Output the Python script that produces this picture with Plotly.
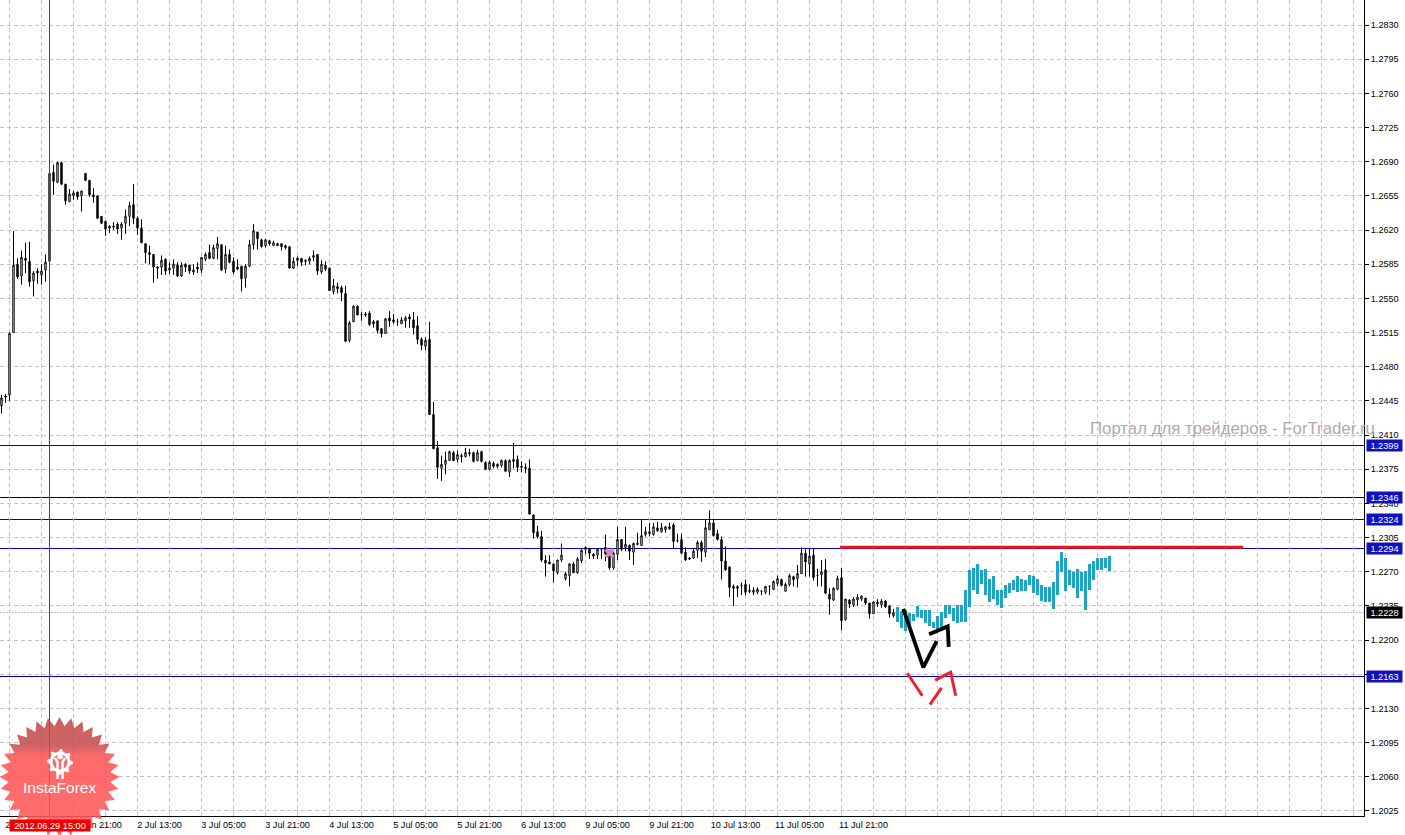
import math
import plotly.graph_objects as go

W, H = 1405, 835
PLOT_W, PLOT_H = 1364, 816
BASE = 1.2          # all bar values below are in pips above this price

OPEN = [440,450,451,515,585,573,591,588,568,578,
        574,579,588,679,669,689,667,649,655,659,
        655,678,671,656,655,634,629,622,624,626,
        622,627,634,646,632,622,606,597,595,582,
        582,590,579,581,584,573,585,584,577,582,
        579,590,597,591,601,605,580,595,588,582,
        583,571,583,605,618,610,604,609,604,606,
        606,604,603,581,591,591,589,588,592,595,
        577,584,581,557,562,561,555,507,526,542,
        533,534,535,526,527,519,514,530,528,526,
        524,527,531,528,522,508,501,508,431,397,
        376,380,384,392,385,389,388,392,392,384,
        393,382,375,381,380,379,384,372,385,385,
        378,377,376,328,311,306,282,280,278,269,
        282,263,266,278,269,281,293,294,288,287,
        293,295,288,274,288,303,295,297,290,298,
        297,308,311,308,315,311,313,316,318,302,
        303,290,284,284,292,300,290,313,320,309,
        303,281,275,255,253,256,257,251,249,249,
        250,249,255,252,258,262,250,257,265,263,
        268,289,278,287,266,267,272,247,241,252,
        264,221,241,236,241,242,243,238,227,239,
        236,240,235,225]
CLOSE = [448,449,514,584,572,592,589,567,576,576,
         578,587,678,670,689,667,650,657,658,654,
         660,671,656,654,632,627,621,624,623,621,
         626,634,645,632,622,607,597,595,582,581,
         589,578,581,585,573,584,582,578,579,580,
         592,595,591,602,606,579,595,587,577,580,
         570,583,605,619,611,603,610,606,607,604,
         603,602,581,588,589,587,588,591,594,578,
         585,580,558,563,560,556,506,525,542,533,
         533,533,523,524,517,514,529,527,526,526,
         528,530,529,520,508,502,507,431,396,377,
         380,384,393,384,390,388,392,391,383,392,
         383,375,382,378,378,384,373,384,383,377,
         377,376,329,310,306,282,279,278,271,282,
         287,268,278,269,283,292,295,289,286,293,
         293,288,274,289,303,293,298,291,299,299,
         307,311,309,316,312,315,316,314,301,302,
         289,282,283,291,300,291,315,320,307,303,
         281,272,254,253,255,256,249,250,251,252,
         250,255,255,260,263,256,257,266,262,268,
         289,280,286,264,266,270,248,242,253,263,
         220,242,237,242,244,245,238,227,239,237,
         240,234,227,228]
HIGH = [451,452,515,619,591,599,607,608,578,581,
        585,595,692,687,690,690,667,662,660,659,
        660,678,671,663,655,634,629,625,628,628,
        628,641,649,667,634,631,606,604,595,583,
        594,591,587,590,587,587,586,584,585,587,
        592,597,605,605,613,605,604,600,592,590,
        583,585,610,626,618,611,611,610,609,607,
        606,605,603,592,593,591,590,593,599,595,
        589,588,581,570,566,563,563,527,543,543,
        536,536,537,528,527,519,530,537,534,529,
        531,532,534,536,532,510,510,526,444,404,
        389,393,394,394,394,391,397,396,393,395,
        394,383,384,383,381,385,385,385,402,389,
        383,381,385,329,317,312,287,287,278,282,
        299,270,279,280,285,293,296,294,289,294,
        294,308,292,291,316,303,316,298,300,310,
        323,316,320,320,321,320,317,320,320,309,
        309,295,285,293,302,302,323,333,324,313,
        306,296,275,257,256,259,262,257,254,254,
        251,255,256,261,266,263,259,268,266,277,
        295,293,294,294,273,282,283,253,254,266,
        274,242,242,244,247,246,243,238,240,242,
        242,241,236,232]
LOW = [432,443,445,515,570,564,576,562,552,565,
       564,567,588,656,668,666,646,649,651,651,
       639,670,654,648,632,626,614,617,620,616,
       610,616,624,626,615,607,586,585,566,570,
       574,574,575,574,572,572,577,575,574,576,
       576,588,590,590,590,578,576,586,575,579,
       557,561,582,600,600,602,602,604,604,604,
       599,600,581,580,583,583,584,585,588,574,
       575,578,558,554,555,547,506,505,526,533,
       527,531,522,520,514,510,514,521,524,522,
       524,520,520,513,503,497,497,431,396,365,
       363,370,384,383,382,382,387,388,382,383,
       382,374,374,376,376,377,372,367,376,372,
       372,371,329,304,304,280,265,278,259,267,
       280,261,255,269,268,279,288,283,283,283,
       283,281,272,272,282,291,291,282,277,297,
       297,306,306,307,311,310,310,313,294,300,
       288,281,282,283,284,280,285,313,306,302,
       262,271,244,235,244,246,246,248,246,247,
       246,247,246,251,255,255,250,255,255,254,
       268,265,265,261,255,255,247,226,240,251,
       210,220,233,234,235,240,236,222,227,234,
       233,233,223,223]

FORECAST_HIGH = [234,230,231,228,227,235,231,231,231,219,
                 225,229,236,236,233,236,236,251,272,274,
                 278,272,273,263,266,251,251,256,258,262,
                 266,263,262,267,266,263,256,254,254,260,
                 281,290,284,272,270,273,270,271,278,281,
                 284,284,284,286]
FORECAST_LOW = [219,212,209,214,220,224,223,217,214,212,
                211,212,223,227,220,218,219,219,234,251,
                247,257,246,239,242,236,233,243,248,251,
                249,250,250,256,248,246,240,239,239,232,
                246,270,250,256,253,243,250,231,251,262,
                272,272,274,271]

PRICE_TICKS = [1.2830,1.2795,1.2760,1.2725,1.2690,1.2655,1.2620,1.2585,1.2550,1.2515,1.2480,1.2445,
               1.2410,1.2375,1.2340,1.2305,1.2270,1.2235,1.2200,1.2165,1.2130,1.2095,1.2060,1.2025]
TIME_TICK_BARS = [2,18,34,50,66,82,98,114,130,146,162,178,194,210]
TIME_TICK_LABELS = ["29 Jun 05:00","29 Jun 21:00","2 Jul 13:00","3 Jul 05:00","3 Jul 21:00","4 Jul 13:00",
                    "5 Jul 05:00","5 Jul 21:00","6 Jul 13:00","9 Jul 05:00","9 Jul 21:00","10 Jul 13:00",
                    "11 Jul 05:00","11 Jul 21:00"]
GRID_ONLY_BARS = [10,26,42,58,74,90,106,122,138,154,170,186,202,218,234,250,266,282,298,314,330]
FAR_TICK_BARS = [226,242,258,274,290,306,322,338]

LEVELS = [1.2399, 1.2324, 1.2294, 1.2163]
LEVEL_DARK = 1.2346
LEVEL_BID = 1.2228
RESISTANCE_BARS, RESISTANCE_PRICE = [209.6, 310.4], 1.2295
CROSSHAIR_BAR = 12
CROSSHAIR_LABEL = "2012.06.29 15:00"
MARK_BAR, MARK_PRICE = 152, 1.2289
BLACK_STROKES = [([225.45,230.45,233.8],[1.2232,1.2172,1.2199]),
                 ([231.9,236.55,236.8],[1.2206,1.2214,1.2193])]
RED_STROKES = [([226.45,230.2],[1.2166,1.2143]),
               ([232.1,235.0],[1.2134,1.2151]),
               ([233.4,237.3,238.55],[1.2159,1.2167,1.2143])]
WATERMARK = "Портал для трейдеров - ForTrader.ru"
LOGO_TEXT = "InstaForex"

assert len(OPEN) == len(CLOSE) == len(HIGH) == len(LOW) == 224
assert len(FORECAST_HIGH) == len(FORECAST_LOW) == 54


def price(vals):
    return [BASE + v / 10000 for v in vals]


FONT = "Liberation Sans"
TOP_PRICE = 1.2690 + 161.7 / 9763
BOT_PRICE = TOP_PRICE - PLOT_H / 9763

bars = list(range(len(OPEN)))
fc_bars = list(range(len(OPEN), len(OPEN) + len(FORECAST_HIGH)))

fig = go.Figure()

# pink mark below the candles
fig.add_trace(go.Scatter(x=[MARK_BAR], y=[MARK_PRICE], mode="markers",
                         marker=dict(symbol="x", size=9, color="#d98ac5", line=dict(width=0))))
# forecast bars
fig.add_trace(go.Bar(x=fc_bars, base=price(FORECAST_LOW),
                     y=[(h - l) / 10000 for h, l in zip(FORECAST_HIGH, FORECAST_LOW)],
                     width=0.75, marker=dict(color="#20a4c4", line=dict(width=0))))
# history
fig.add_trace(go.Candlestick(x=bars, open=price(OPEN), high=price(HIGH), low=price(LOW), close=price(CLOSE),
                             whiskerwidth=0,
                             increasing=dict(line=dict(color="black", width=1), fillcolor="white"),
                             decreasing=dict(line=dict(color="black", width=1), fillcolor="black")))
# crosshair
fig.add_trace(go.Scatter(x=[CROSSHAIR_BAR, CROSSHAIR_BAR], y=[BOT_PRICE, TOP_PRICE], mode="lines",
                         line=dict(color="#cc1010", width=1)))
# resistance
fig.add_trace(go.Scatter(x=RESISTANCE_BARS, y=[RESISTANCE_PRICE] * 2, mode="lines",
                         line=dict(color="#ee1414", width=3)))
for xs, ys in BLACK_STROKES:
    fig.add_trace(go.Scatter(x=xs, y=ys, mode="lines", line=dict(color="black", width=3.8)))
for xs, ys in RED_STROKES:
    fig.add_trace(go.Scatter(x=xs, y=ys, mode="lines", line=dict(color="#ee2030", width=3)))

# logo, drawn in a full-page pixel coordinate system
CX, CY, R_OUT, R_IN, TEETH = 59.5, 777, 60, 51, 32
star_x, star_y = [], []
for i in range(TEETH * 2):
    a = math.pi * i / TEETH - math.pi / 2
    r = R_OUT if i % 2 == 0 else R_IN
    star_x.append(CX + r * math.cos(a))
    star_y.append(CY + r * math.sin(a))
star_x.append(star_x[0]); star_y.append(star_y[0])
fig.add_trace(go.Scatter(x=star_x, y=star_y, xaxis="x2", yaxis="y2", mode="lines", fill="toself",
                         line=dict(width=0),
                         fillgradient=dict(type="vertical", start=717, stop=835,
                                           colorscale=[[0, "rgba(192,70,70,0.85)"], [0.24, "rgba(200,72,72,0.85)"],
                                                       [0.34, "rgba(255,80,80,0.85)"], [1, "rgba(255,90,90,0.88)"]])))
GX, GY = 60, 762
gear_x, gear_y = [], []
for i in range(40):
    a = 2 * math.pi * i / 40
    r = 13 if (i % 5) in (0, 1) else 10.5
    gear_x.append(GX + r * math.cos(a))
    gear_y.append(GY + r * math.sin(a))
gear_x.append(gear_x[0]); gear_y.append(gear_y[0])
fig.add_trace(go.Scatter(x=gear_x, y=gear_y, xaxis="x2", yaxis="y2", mode="lines", fill="toself",
                         fillcolor="white", line=dict(width=0)))
fig.add_trace(go.Scatter(x=[GX], y=[GY], xaxis="x2", yaxis="y2", mode="markers",
                         marker=dict(size=15, color="#f47070", line=dict(width=0))))
fig.add_trace(go.Scatter(x=[GX - 5, GX - 2.5, GX - 2.5, None, GX + 5, GX + 2.5, GX + 2.5],
                         y=[758, 762, 779, None, 758, 762, 779], xaxis="x2", yaxis="y2", mode="lines",
                         line=dict(color="white", width=2.4)))
fig.add_trace(go.Scatter(x=[GX], y=[756.5], xaxis="x2", yaxis="y2", mode="markers",
                         marker=dict(size=5.5, color="white", line=dict(width=0))))

shapes = []
for lv in LEVELS:
    shapes.append(dict(type="line", xref="x domain", x0=0, x1=1, yref="y", y0=lv, y1=lv, layer="below",
                       line=dict(color="#0000cc", width=1)))
shapes.append(dict(type="line", xref="x domain", x0=0, x1=1, yref="y", y0=LEVEL_DARK, y1=LEVEL_DARK, layer="below",
                   line=dict(color="#000040", width=1)))
shapes.append(dict(type="line", xref="x domain", x0=0, x1=1, yref="y", y0=LEVEL_BID, y1=LEVEL_BID, layer="below",
                   line=dict(color="#c4c0c0", width=1, dash="2px,1px")))

annotations = []
for lv in LEVELS + [LEVEL_DARK, LEVEL_BID]:
    annotations.append(dict(xref="paper", x=1366 / W, yref="y", y=lv, xanchor="left", yanchor="middle",
                            text=f"{lv:.4f}", showarrow=False, width=35, height=11, borderpad=0,
                            bgcolor="black" if lv == LEVEL_BID else "#1010c0",
                            font=dict(family=FONT, size=9.2, color="white")))
annotations.append(dict(xref="paper", yref="paper", x=1088 / W, y=(H - 428.5) / H, xanchor="left", yanchor="middle",
                        text=WATERMARK, showarrow=False, font=dict(family=FONT, size=16.8, color="#b4a9a9")))
annotations.append(dict(xref="paper", yref="paper", x=59.5 / W, y=(H - 787) / H, xanchor="center", yanchor="middle",
                        text=LOGO_TEXT, showarrow=False, font=dict(family=FONT, size=15.5, color="white")))
annotations.append(dict(xref="paper", yref="paper", x=9 / W, y=(H - 825.5) / H, xanchor="left", yanchor="middle",
                        text=CROSSHAIR_LABEL, showarrow=False, width=80, height=11, borderpad=0, bgcolor="#ee0000",
                        font=dict(family=FONT, size=9.2, color="white")))

XGRID = dict(gridcolor="#bcc4bc", griddash="4px,3px", gridwidth=1)
YGRID = dict(gridcolor="#c8c0c8", griddash="4px,3px", gridwidth=1)
fig.update_layout(
    width=W, height=H, margin=dict(l=0, r=0, t=0, b=0), autosize=False,
    paper_bgcolor="white", plot_bgcolor="rgba(0,0,0,0)", showlegend=False, hovermode=False,
    boxgap=0.5, bargap=0, shapes=shapes, annotations=annotations,
    xaxis=dict(domain=[0, PLOT_W / W], range=[-0.375, (PLOT_W - 1.5) / 4], anchor="y", rangeslider=dict(visible=False),
               tickmode="array", tickvals=TIME_TICK_BARS, ticktext=TIME_TICK_LABELS, ticklabelshift=22,
               ticks="", showgrid=True, **XGRID, showline=True, linecolor="black", linewidth=1, mirror=False,
               tickfont=dict(family=FONT, size=9.1, color="black"), zeroline=False, automargin=False,
               minor=dict(tickmode="array", tickvals=GRID_ONLY_BARS + FAR_TICK_BARS, showgrid=True, ticks="", **XGRID)),
    yaxis=dict(domain=[(H - PLOT_H) / H, 1], range=[BOT_PRICE, TOP_PRICE], anchor="x", side="right",
               tickmode="array", tickvals=PRICE_TICKS, ticktext=[f"{t:.4f}" for t in PRICE_TICKS],
               ticks="outside", ticklen=4, tickcolor="black", showgrid=True, **YGRID, showline=True,
               linecolor="black", linewidth=1, tickfont=dict(family=FONT, size=9.1, color="black"),
               zeroline=False, automargin=False),
    xaxis2=dict(domain=[0, 1], range=[0, W], anchor="y2", visible=False, fixedrange=True),
    yaxis2=dict(domain=[0, 1], range=[H, 0], anchor="x2", visible=False, fixedrange=True),
)

fig.write_html("out.html", config=dict(displayModeBar=False),
               post_script="document.body.style.margin='0';document.body.style.overflow='hidden';"
                           "document.querySelectorAll('.shapelayer path').forEach(function(p){p.style.shapeRendering='crispEdges';});")
